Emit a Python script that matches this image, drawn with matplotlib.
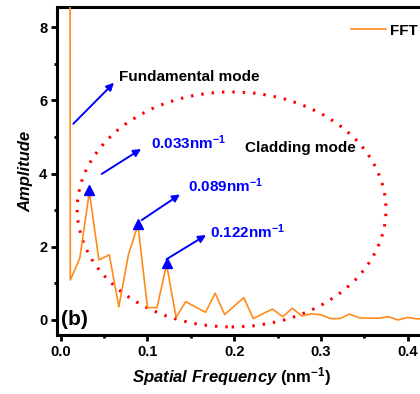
import numpy as np
import matplotlib
matplotlib.use("Agg")
import matplotlib.pyplot as plt
from matplotlib.patches import Ellipse

plt.rcParams["font.family"] = ["Liberation Sans", "DejaVu Sans"]
plt.rcParams["mathtext.fontset"] = "custom"
plt.rcParams["mathtext.rm"] = "Liberation Sans:bold"
plt.rcParams["mathtext.bf"] = "Liberation Sans:bold"
plt.rcParams["mathtext.it"] = "Liberation Sans:italic:bold"
plt.rcParams["mathtext.default"] = "bf"

# FFT spectrum (nm^-1, amplitude)
freq = [0.0105, 0.011, 0.022, 0.033, 0.044, 0.056, 0.067, 0.078, 0.089, 0.100,
        0.111, 0.122, 0.133, 0.144, 0.167, 0.178, 0.189, 0.211, 0.222, 0.244,
        0.256, 0.267, 0.278, 0.289, 0.300, 0.311, 0.322, 0.333, 0.344, 0.356,
        0.367, 0.378, 0.389, 0.400, 0.411, 0.422]
amp = [20.0, 1.09, 1.69, 3.50, 1.64, 1.78, 0.36, 1.78, 2.60, 0.34,
       0.34, 1.52, 0.07, 0.50, 0.21, 0.73, 0.15, 0.61, 0.04, 0.30,
       0.09, 0.32, 0.11, 0.17, 0.14, 0.04, 0.04, 0.16, 0.06, 0.05,
       0.05, 0.09, 0.00, 0.07, 0.03, 0.04]

# marked peaks
peak_freq = [0.033, 0.089, 0.122]
peak_amp = [3.56, 2.63, 1.57]
peak_labels = ["0.033", "0.089", "0.122"]

# annotation arrows: (x0, y0, x1, y1)
arrows = [(0.0145, 5.36, 0.0614, 6.48),
          (0.0473, 3.99, 0.0926, 4.67),
          (0.0934, 2.73, 0.1375, 3.43),
          (0.1220, 1.66, 0.1675, 2.32)]
label_pos = [(0.1037, 4.85), (0.1470, 3.66), (0.1720, 2.40)]

orange = "#FF8C1A"

fig = plt.figure(figsize=(4.2, 3.94), dpi=100)
ax = fig.add_axes([57 / 420, 59 / 394, 1.05 - 57 / 420, 328 / 394])

ax.plot(freq, amp, color=orange, lw=1.2, label="FFT", zorder=3)
ax.plot(peak_freq, peak_amp, ls="none", marker="^", ms=7.5, color="blue", zorder=5)

ell = Ellipse((0.197, 3.02), 0.356, 6.42, fill=False, ec="red", lw=2.2,
              ls=(0, (0.8, 2.6)), zorder=2)
ax.add_patch(ell)

for x0, y0, x1, y1 in arrows:
    ax.annotate("", xy=(x1, y1), xytext=(x0, y0),
                arrowprops=dict(arrowstyle="-|>", color="blue", lw=1.4,
                                mutation_scale=11, shrinkA=0, shrinkB=0),
                zorder=6)

for (tx, ty), lab in zip(label_pos, peak_labels):
    ax.text(tx, ty, lab + r"nm$^{-1}$", color="blue", fontsize=11,
            fontweight="bold", va="center", ha="left")

ax.text(0.0676, 6.64, "Fundamental mode", fontsize=11, fontweight="bold",
        va="center", ha="left")
ax.text(0.2124, 4.69, "Cladding mode", fontsize=11, fontweight="bold",
        va="center", ha="left")
ax.text(0.0, 0.0, "(b)", fontsize=15, fontweight="bold", va="center", ha="left")

ax.set_xlim(-0.0043, 0.4384)
ax.set_ylim(-0.41, 8.55)
ax.set_xticks([0.0, 0.1, 0.2, 0.3, 0.4])
ax.set_xticklabels(["0.0", "0.1", "0.2", "0.3", "0.4"])
ax.set_xticks([0.05, 0.15, 0.25, 0.35], minor=True)
ax.set_yticks([0, 2, 4, 6, 8])
ax.set_yticks([1, 3, 5, 7], minor=True)

for s in ["left", "top", "bottom"]:
    ax.spines[s].set_linewidth(2.2)
ax.spines["right"].set_visible(False)
ax.tick_params(which="major", direction="out", length=4, width=2,
               labelsize=10.5, pad=3)
ax.tick_params(which="minor", direction="out", length=2.5, width=2)
for lab in ax.get_xticklabels() + ax.get_yticklabels():
    lab.set_fontweight("bold")

ax.set_ylabel("Amplitude", fontsize=12, fontweight="bold", style="italic",
              labelpad=4)
fig.text(131.7 / 420, 0.045, r"$\mathit{Spatial\ Frequency}$ (nm$^{-1}$)",
         fontsize=12, fontweight="bold", va="center", ha="left")

ax.legend(loc="upper left", bbox_to_anchor=(337 / 420, 1 - 10 / 394),
          bbox_transform=fig.transFigure, frameon=False,
          prop={"weight": "bold", "size": 11}, handlelength=2.3,
          handletextpad=0.25)

fig.savefig("out.png", dpi=100)
